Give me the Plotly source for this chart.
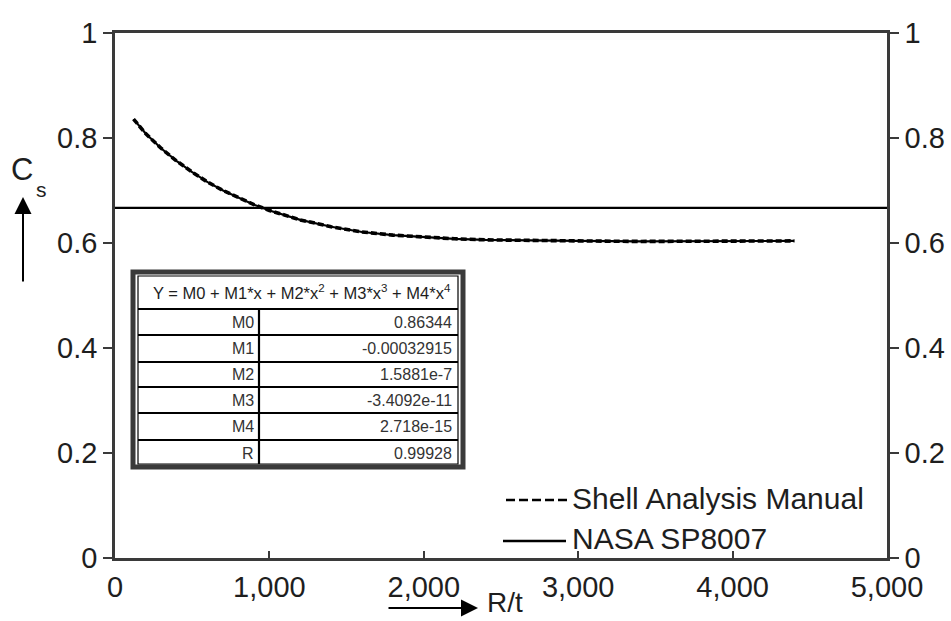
import plotly.graph_objects as go

# ---------------- data ----------------
rt_values = [120, 200, 300, 400, 500, 600, 700, 800, 900, 1000, 1200, 1400, 1600,
             1800, 2000, 2200, 2400, 2600, 2800, 3000, 3400, 3800, 4200, 4400]
cs_shell = [0.836, 0.808, 0.780, 0.756, 0.735, 0.716, 0.700, 0.686, 0.673, 0.662,
            0.644, 0.631, 0.621, 0.615, 0.611, 0.608, 0.606, 0.605, 0.604, 0.604,
            0.603, 0.603, 0.603, 0.604]
nasa_x = [0, 5000]
nasa_cs = [0.667, 0.667]

x_tickvals = [0, 1000, 2000, 3000, 4000, 5000]
x_ticktext = ["0", "1,000", "2,000", "3,000", "4,000", "5,000"]
y_tickvals = [0, 0.2, 0.4, 0.6, 0.8, 1]
y_ticktext = ["0", "0.2", "0.4", "0.6", "0.8", "1"]

fit_header = "Y = M0 + M1*x + M2*x<sup>2</sup> + M3*x<sup>3</sup> + M4*x<sup>4</sup>"
fit_names = ["M0", "M1", "M2", "M3", "M4", "R"]
fit_values = ["0.86344", "-0.00032915", "1.5881e-7", "-3.4092e-11", "2.718e-15", "0.99928"]

legend_names = ["Shell Analysis Manual", "NASA SP8007"]

# ---------------- layout geometry (pixels) ----------------
W, H = 951, 621
L, R, T, B = 115, 887, 33, 558
FONT = "Liberation Sans, Arial, Helvetica, sans-serif"
AXC = "#3a3a3a"
TXT = "#1e1e1e"


def px(x):
    return (x - L) / (R - L)


def py(y):
    return (B - y) / (B - T)


fig = go.Figure()
fig.add_trace(go.Scatter(x=rt_values, y=cs_shell, mode="lines",
                         line=dict(color="black", width=2.2),
                         showlegend=False, hoverinfo="skip"))
fig.add_trace(go.Scatter(x=rt_values, y=cs_shell, mode="lines",
                         line=dict(color="black", width=3.6, dash="6px,3px"),
                         name=legend_names[0], showlegend=False))
fig.add_trace(go.Scatter(x=nasa_x, y=nasa_cs, mode="lines",
                         line=dict(color="black", width=2.2),
                         name=legend_names[1], showlegend=False))
# invisible trace for right axis
fig.add_trace(go.Scatter(x=nasa_x, y=nasa_cs, mode="lines", yaxis="y2",
                         line=dict(width=0), opacity=0, showlegend=False,
                         hoverinfo="skip"))

shapes = []
annotations = []

# ---- fit table ----
tx0, tx1, ty0, ty1 = 133, 463, 272, 467
shapes.append(dict(type="rect", xref="paper", yref="paper",
                   x0=px(tx0), x1=px(tx1), y0=py(ty1), y1=py(ty0),
                   line=dict(color=AXC, width=5), fillcolor="white"))
shapes.append(dict(type="rect", xref="paper", yref="paper",
                   x0=px(tx0 + 5), x1=px(tx1 - 5), y0=py(ty1 - 3), y1=py(ty0 + 4),
                   line=dict(color="black", width=1.2)))
row_lines = [309, 335, 362, 387, 413, 440]
for yl in row_lines:
    shapes.append(dict(type="line", xref="paper", yref="paper",
                       x0=px(tx0 + 5), x1=px(tx1 - 5), y0=py(yl), y1=py(yl),
                       line=dict(color="black", width=2)))
shapes.append(dict(type="line", xref="paper", yref="paper",
                   x0=px(259), x1=px(259), y0=py(309), y1=py(ty1 - 3),
                   line=dict(color="black", width=2.2)))

annotations.append(dict(xref="paper", yref="paper", x=px(302), y=py(292),
                        text=fit_header, showarrow=False, xanchor="center",
                        yanchor="middle",
                        font=dict(family=FONT, size=16.5, color=TXT)))
row_centers = [322, 348.5, 374.5, 400, 426.5, 453]
for name, val, yc in zip(fit_names, fit_values, row_centers):
    annotations.append(dict(xref="paper", yref="paper", x=px(256), y=py(yc),
                            text=name, showarrow=False, xanchor="right",
                            yanchor="middle",
                            font=dict(family=FONT, size=16, color="#333")))
    annotations.append(dict(xref="paper", yref="paper", x=px(454), y=py(yc),
                            text=val, showarrow=False, xanchor="right",
                            yanchor="middle",
                            font=dict(family=FONT, size=16, color="#333")))

# ---- legend (drawn) ----
shapes.append(dict(type="line", xref="paper", yref="paper",
                   x0=px(506), x1=px(569), y0=py(500), y1=py(500),
                   line=dict(color="black", width=2.5, dash="9px,4px")))
shapes.append(dict(type="line", xref="paper", yref="paper",
                   x0=px(503), x1=px(566), y0=py(541), y1=py(541),
                   line=dict(color="black", width=2.5)))
annotations.append(dict(xref="paper", yref="paper", x=px(570), y=py(498),
                        text=legend_names[0], showarrow=False, xanchor="left",
                        yanchor="middle",
                        font=dict(family=FONT, size=30, color=TXT)))
annotations.append(dict(xref="paper", yref="paper", x=px(570), y=py(538),
                        text=legend_names[1], showarrow=False, xanchor="left",
                        yanchor="middle",
                        font=dict(family=FONT, size=30, color=TXT)))

# ---- axis titles with arrows ----
annotations.append(dict(xref="paper", yref="paper", x=px(22), y=py(169),
                        text="C", showarrow=False, xanchor="center",
                        yanchor="middle",
                        font=dict(family=FONT, size=31, color=TXT)))
annotations.append(dict(xref="paper", yref="paper", x=px(41), y=py(189),
                        text="s", showarrow=False, xanchor="center",
                        yanchor="middle",
                        font=dict(family=FONT, size=21, color=TXT)))
annotations.append(dict(xref="paper", yref="paper", x=px(23), y=py(197),
                        ax=0, ay=86, axref="pixel", ayref="pixel",
                        text="", showarrow=True, arrowhead=2, arrowsize=1.7,
                        arrowwidth=2, arrowcolor="black"))
annotations.append(dict(xref="paper", yref="paper", x=px(478), y=py(608),
                        ax=-91, ay=0, axref="pixel", ayref="pixel",
                        text="", showarrow=True, arrowhead=2, arrowsize=1.7,
                        arrowwidth=2, arrowcolor="black"))
annotations.append(dict(xref="paper", yref="paper", x=px(485), y=py(620),
                        text="R/t", showarrow=False, xanchor="left",
                        yanchor="bottom",
                        font=dict(family=FONT, size=28, color=TXT)))

tickfont = dict(family=FONT, size=29, color=TXT)
fig.update_layout(
    width=W, height=H,
    margin=dict(l=L, r=W - R, t=T, b=H - B, autoexpand=False),
    paper_bgcolor="white", plot_bgcolor="white",
    showlegend=False,
    xaxis=dict(range=[0, 5000], tickvals=x_tickvals, ticktext=x_ticktext,
               ticks="inside", ticklen=7, tickwidth=2, tickcolor=AXC,
               showline=True, linecolor=AXC, linewidth=2.5, mirror=True,
               showgrid=False, zeroline=False, tickfont=tickfont,
               ticklabelstandoff=1, automargin=False),
    yaxis=dict(range=[0, 1], tickvals=y_tickvals, ticktext=y_ticktext,
               ticks="outside", ticklen=9, tickwidth=2, tickcolor=AXC,
               showline=True, linecolor=AXC, linewidth=2.5,
               showgrid=False, zeroline=False, tickfont=tickfont,
               automargin=False),
    yaxis2=dict(range=[0, 1], tickvals=y_tickvals, ticktext=y_ticktext,
                overlaying="y", side="right",
                ticks="outside", ticklen=9, tickwidth=2, tickcolor=AXC,
                showline=True, linecolor=AXC, linewidth=2.5,
                showgrid=False, zeroline=False, tickfont=tickfont,
                automargin=False),
    shapes=shapes,
    annotations=annotations,
)

fig.write_html("out.html",
               config={"displayModeBar": False},
               post_script="document.body.style.margin='0';"
                           "document.body.style.overflow='hidden';")
